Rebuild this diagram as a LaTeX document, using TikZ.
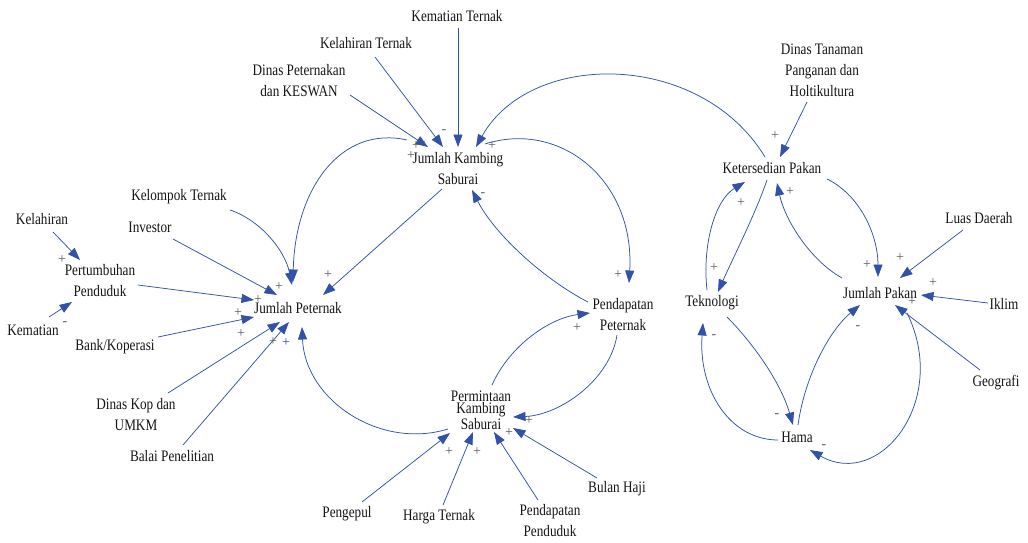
\documentclass[tikz,border=0pt]{standalone}
\usepackage{fontspec}
\setmainfont{Liberation Serif}[FakeStretch=0.825]
\newfontfamily\signfont{Liberation Serif}
\usetikzlibrary{arrows.meta}
\definecolor{arrowblue}{RGB}{48,82,168}
\definecolor{signgray}{RGB}{90,90,90}
\definecolor{txt}{RGB}{20,20,20}
\tikzset{
  lbl/.style={inner sep=0pt, text=txt, align=center, font=\fontsize{16}{21}\selectfont},
  sgn/.style={inner sep=0pt, text=signgray, font=\signfont\fontsize{14}{14}\selectfont},
  link/.style={draw=arrowblue, line width=0.75pt, -{Triangle[length=12.5pt,width=9pt]}}
}
\begin{document}
\begin{tikzpicture}[x=1pt,y=-1pt]
\useasboundingbox (0,0) rectangle (1028,543);
% nodes
\node[lbl] (kt) at (457,16) {Kematian Ternak};
\node[lbl] (klt) at (366,43) {Kelahiran Ternak};
\node[lbl] (dp) at (299,81) {Dinas Peternakan\\dan KESWAN};
\node[lbl] (jk) at (458,169) {Jumlah Kambing\\Saburai};
\node[lbl] (kot) at (179,197) {Kelompok Ternak};
\node[lbl] (inv) at (150,227) {Investor};
\node[lbl] (kel) at (42,219) {Kelahiran};
\node[lbl] (pp) at (100,281) {Pertumbuhan\\Penduduk};
\node[lbl] (kem) at (33,330) {Kematian};
\node[lbl] (bk) at (115,347) {Bank/Koperasi};
\node[lbl] (jp) at (298,308) {Jumlah Peternak};
\node[lbl] (dk) at (136,415) {Dinas Kop dan\\UMKM};
\node[lbl] (bp) at (172,456) {Balai Penelitian};
\node[lbl] (pdp) at (623,315) {Pendapatan\\Peternak};
\node[lbl, font=\fontsize{16}{11}\selectfont] (pks) at (481,410) {Permintaan\\Kambing\\Saburai};
\node[lbl] (pg) at (347,514) {Pengepul};
\node[lbl] (ht) at (439,517) {Harga Ternak};
\node[lbl] (pdd) at (550,521) {Pendapatan\\Penduduk};
\node[lbl] (bh) at (617,489) {Bulan Haji};
\node[lbl] (dt) at (822,70) {Dinas Tanaman\\Panganan dan\\Holtikultura};
\node[lbl] (ksp) at (772,168) {Ketersedian Pakan};
\node[lbl] (ld) at (979,218) {Luas Daerah};
\node[lbl] (tek) at (712,303) {Teknologi};
\node[lbl] (jpk) at (880,293) {Jumlah Pakan};
\node[lbl] (ik) at (1004,304) {Iklim};
\node[lbl] (geo) at (996,383) {Geografi};
\node[lbl] (hm) at (797,437) {Hama};
% connectors to Jumlah Kambing Saburai
\draw[link] ([shift={(51,14)}]dp.center) -- ([shift={(-30,-22)}]jk.center);
\draw[link] ([shift={(9,14)}]klt.center) -- ([shift={(-15,-22)}]jk.center);
\draw[link] ([shift={(1,12)}]kt.center) -- ([shift={(0,-22)}]jk.center);
\draw[link] ([shift={(-7,-11)}]ksp.center) .. controls (700,50) and (530,50) .. ([shift={(18,-22)}]jk.center);
\draw[link] ([shift={(-35,-13)}]pdp.center) .. controls (545,280) and (495,235) .. ([shift={(14,21)}]jk.center);
% from Jumlah Kambing
\draw[link] ([shift={(-51,-29)}]jk.center) .. controls (340,125) and (295,190) .. ([shift={(-5,-26)}]jp.center);
\draw[link] ([shift={(27,-25)}]jk.center) .. controls (560,120) and (635,180) .. ([shift={(6,-32)}]pdp.center);
\draw[link] ([shift={(-16,20)}]jk.center) -- ([shift={(25,-13)}]jp.center);
% to Jumlah Peternak
\draw[link] ([shift={(51,13)}]kot.center) .. controls (260,220) and (285,250) .. ([shift={(-6,-23)}]jp.center);
\draw[link] ([shift={(23,12)}]inv.center) -- ([shift={(-21,-13)}]jp.center);
\draw[link] ([shift={(38,4)}]pp.center) -- ([shift={(-44,-8)}]jp.center);
\draw[link] ([shift={(43,-10)}]bk.center) -- ([shift={(-44,9)}]jp.center);
\draw[link] ([shift={(32,-22)}]dk.center) -- ([shift={(-18,14)}]jp.center);
\draw[link] ([shift={(11,-11)}]bp.center) -- ([shift={(-9,14)}]jp.center);
\draw[link] ([shift={(-33,19)}]pks.center) .. controls (380,450) and (305,400) .. ([shift={(4,19)}]jp.center);
% Pertumbuhan Penduduk
\draw[link] ([shift={(11,13)}]kel.center) -- ([shift={(-20,-21)}]pp.center);
\draw[link] ([shift={(16,-13)}]kem.center) -- ([shift={(-28,21)}]pp.center);
% Permintaan Kambing Saburai
\draw[link] ([shift={(15,-12)}]pg.center) -- ([shift={(-31,23)}]pks.center);
\draw[link] ([shift={(4,-12)}]ht.center) -- ([shift={(-8,22)}]pks.center);
\draw[link] ([shift={(-12,-21)}]pdd.center) -- ([shift={(13,22)}]pks.center);
\draw[link] ([shift={(-20,-11)}]bh.center) -- ([shift={(32,18)}]pks.center);
\draw[link] ([shift={(-6,20)}]pdp.center) .. controls (610,380) and (560,415) .. ([shift={(32,7)}]pks.center);
\draw[link] ([shift={(11,-25)}]pks.center) .. controls (510,345) and (550,318) .. ([shift={(-33,-2)}]pdp.center);
% right part
\draw[link] ([shift={(-15,32)}]dt.center) -- ([shift={(8,-11)}]ksp.center);
\draw[link] ([shift={(-5,-13)}]tek.center) .. controls (702,245) and (715,200) .. ([shift={(-27,14)}]ksp.center);
\draw[link] ([shift={(-5,12)}]ksp.center) .. controls (755,215) and (732,260) .. ([shift={(6,-11)}]tek.center);
\draw[link] ([shift={(-38,-15)}]jpk.center) .. controls (810,260) and (785,220) .. ([shift={(5,15)}]ksp.center);
\draw[link] ([shift={(55,11)}]ksp.center) .. controls (860,195) and (878,235) .. ([shift={(-2,-16)}]jpk.center);
\draw[link] ([shift={(-16,12)}]ld.center) -- ([shift={(20,-15)}]jpk.center);
\draw[link] ([shift={(-16,-1)}]ik.center) -- ([shift={(41,2)}]jpk.center);
\draw[link] ([shift={(-16,-13)}]geo.center) -- ([shift={(15,12)}]jpk.center);
\draw[link] ([shift={(15,14)}]tek.center) .. controls (750,340) and (780,380) .. ([shift={(-4,-12)}]hm.center);
\draw[link] ([shift={(-19,3)}]hm.center) .. controls (730,440) and (698,390) .. ([shift={(-9,20)}]tek.center);
\draw[link] ([shift={(1,-12)}]hm.center) .. controls (805,375) and (830,330) .. ([shift={(-20,12)}]jpk.center);
\draw[link] ([shift={(27,20)}]jpk.center) .. controls (950,400) and (880,490) .. ([shift={(13,13)}]hm.center);
% polarity signs
\node[sgn] (s1) at (416,146) {+};
\node[sgn] (s2) at (423,144) {-};
\node[sgn] (s3) at (411,156) {+};
\node[sgn] (s4) at (444,132) {-};
\node[sgn] (s5) at (492,146) {+};
\node[sgn] (s6) at (483,195) {-};
\node[sgn] (s7) at (279,287) {+};
\node[sgn] (s8) at (258,300) {+};
\node[sgn] (s9) at (238,313) {+};
\node[sgn] (s10) at (241,334) {+};
\node[sgn] (s11) at (273,342) {+};
\node[sgn, text=arrowblue] (s12) at (286,343) {+};
\node[sgn] (s13) at (328,275) {+};
\node[sgn] (s14) at (62,260) {+};
\node[sgn] (s15) at (65,324) {-};
\node[sgn] (s16) at (449,452) {+};
\node[sgn] (s17) at (477,452) {+};
\node[sgn] (s18) at (509,433) {+};
\node[sgn] (s19) at (529,421) {+};
\node[sgn] (s20) at (618,275) {+};
\node[sgn] (s21) at (577,328) {+};
\node[sgn] (s22) at (775,136) {+};
\node[sgn] (s23) at (741,203) {+};
\node[sgn] (s24) at (790,192) {+};
\node[sgn] (s25) at (714,268) {+};
\node[sgn] (s26) at (867,265) {+};
\node[sgn] (s27) at (900,258) {+};
\node[sgn] (s28) at (933,283) {+};
\node[sgn] (s29) at (912,302) {+};
\node[sgn] (s30) at (858,328) {-};
\node[sgn] (s31) at (714,337) {-};
\node[sgn] (s32) at (777,416) {-};
\node[sgn] (s33) at (824,447) {-};
\end{tikzpicture}
\end{document}
